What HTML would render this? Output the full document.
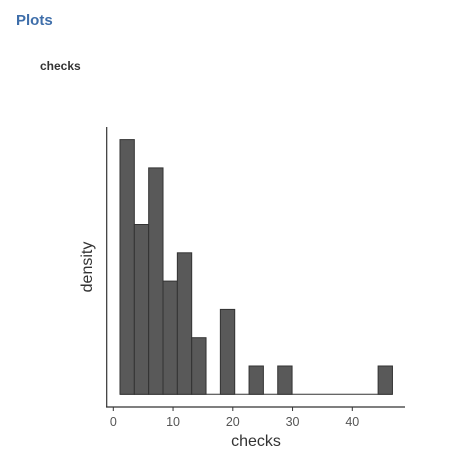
<!DOCTYPE html>
<html><head><meta charset="utf-8"><style>
body{margin:0;background:#fff;width:462px;height:471px;overflow:hidden;font-family:"Liberation Sans",sans-serif;position:relative}
#t{position:absolute;left:16px;top:12px;font-size:15px;font-weight:bold;color:#3e6eaa}
#s{position:absolute;left:40px;top:59px;font-size:12px;font-weight:bold;color:#333}
svg{position:absolute;left:0;top:0}
</style></head><body>
<div id="t">Plots</div>
<div id="s">checks</div>
<svg id="c" width="462" height="471"></svg>
<script>
const counts=[9,6,8,4,5,2,0,3,0,1,0,1,0,0,0,0,0,0,1];
const binStart=1.12, binWidth=2.4;
const xTicks=[0,10,20,30,40];
const X0=113.3, XS=5.975, Y0=394.3, YS=28.3;
const xs=v=>X0+v*XS, ys=c=>Y0-c*YS;
const svg=document.getElementById('c'), NS='http://www.w3.org/2000/svg';
function mk(tag,attrs,txt){const e=document.createElementNS(NS,tag);for(const k in attrs)e.setAttribute(k,attrs[k]);if(txt!=null)e.textContent=txt;svg.appendChild(e);return e;}
const bl=mk('line',{x1:xs(binStart),y1:Y0,x2:xs(binStart+counts.length*binWidth),y2:Y0,stroke:'#333','stroke-width':1});


counts.forEach((c,i)=>{
  if(c<=0)return;
  const x1=xs(binStart+i*binWidth), x2=xs(binStart+(i+1)*binWidth);
  const r=mk('rect',{x:x1,y:ys(c),width:x2-x1,height:Y0-ys(c),fill:'#595959',stroke:'#333','stroke-width':1});
  
  
});
const xa=mk('line',{x1:106,y1:407,x2:405,y2:407,stroke:'#333','stroke-width':1.2});


const ya=mk('line',{x1:106.7,y1:127,x2:106.7,y2:407.5,stroke:'#333','stroke-width':1.2});


xTicks.forEach(v=>{
  const tk=mk('line',{x1:xs(v),y1:407,x2:xs(v),y2:411,stroke:'#333'});
  
  
  const tl=mk('text',{x:xs(v),y:426,'text-anchor':'middle','font-size':12.5,fill:'#555','font-family':'Liberation Sans, sans-serif'},v);
  
  
});
const xt=mk('text',{x:256,y:446,'text-anchor':'middle','font-size':16,fill:'#333','font-family':'Liberation Sans, sans-serif'},'checks');


const yt=mk('text',{x:0,y:0,transform:'translate(92,267) rotate(-90)','text-anchor':'middle','font-size':16,fill:'#333','font-family':'Liberation Sans, sans-serif'},'density');


</script>
</body></html>
